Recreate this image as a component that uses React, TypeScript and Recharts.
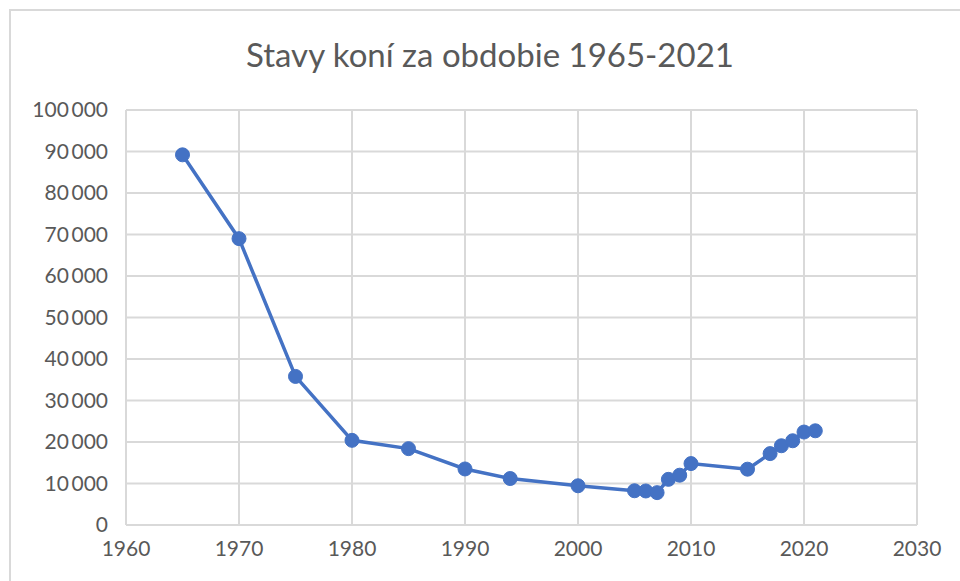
import React from "react";
import { LineChart, Line, XAxis, YAxis, CartesianGrid } from "recharts";

const years = [1965, 1970, 1975, 1980, 1985, 1990, 1994, 2000, 2005, 2006, 2007, 2008, 2009, 2010, 2015, 2017, 2018, 2019, 2020, 2021];
const horses = [89200, 69000, 35800, 20400, 18400, 13500, 11200, 9450, 8250, 8200, 7800, 11000, 12000, 14800, 13450, 17200, 19100, 20300, 22400, 22700];
const xTicks = [1960, 1970, 1980, 1990, 2000, 2010, 2020, 2030];
const yTicks = [0, 10000, 20000, 30000, 40000, 50000, 60000, 70000, 80000, 90000, 100000];
const title = "Stavy koní za obdobie 1965-2021";

const data = years.map((y, i) => ({ year: y, value: horses[i] }));

const fmt = (v: number) => {
  if (v === 0) return "0";
  const s = String(v);
  return s.slice(0, s.length - 3) + "\u2009" + s.slice(s.length - 3);
};

const FONT = "Lato, 'Noto Sans', sans-serif";
const GRID = "#d9d9d9";
const TEXT = "#595959";
const BLUE = "#4472C4";

export default function App() {
  return (
    <div style={{ position: "absolute", left: 0, top: 0, width: 960, height: 581, background: "#fff", overflow: "hidden" }}>
      <div
        style={{
          position: "absolute",
          left: 9,
          top: 9,
          width: 1000,
          height: 700,
          border: `2px solid ${GRID}`,
          boxSizing: "border-box",
        }}
      />
      <div
        style={{
          position: "absolute",
          left: 0,
          top: 33,
          width: 980,
          textAlign: "center",
          fontFamily: FONT,
          fontSize: 33,
          color: TEXT,
          lineHeight: "42px",
        }}
      >
        {title}
      </div>
      <div style={{ position: "absolute", left: 0, top: 0 }}>
        <LineChart
          width={960}
          height={581}
          data={data}
          margin={{ top: 110, right: 43, bottom: 16, left: 0 }}
        >
          <CartesianGrid stroke={GRID} strokeWidth={2} horizontalValues={yTicks} verticalValues={xTicks} />
          <XAxis
            dataKey="year"
            type="number"
            domain={[1960, 2030]}
            ticks={xTicks}
            height={40}
            tickLine={false}
            axisLine={{ stroke: GRID, strokeWidth: 2 }}
            tickSize={0}
            tickMargin={16}
            tick={{ fill: TEXT, fontSize: 21, fontFamily: FONT }}
            interval={0}
          />
          <YAxis
            type="number"
            domain={[0, 100000]}
            ticks={yTicks}
            width={126}
            tickLine={false}
            axisLine={false}
            tickSize={0}
            tickMargin={18}
            tickFormatter={fmt}
            tick={{ fill: TEXT, fontSize: 21, fontFamily: FONT }}
            interval={0}
          />
          <Line
            dataKey="value"
            stroke={BLUE}
            strokeWidth={3.5}
            dot={{ r: 7, fill: BLUE, stroke: BLUE, strokeWidth: 1 }}
            isAnimationActive={false}
          />
        </LineChart>
      </div>
    </div>
  );
}
